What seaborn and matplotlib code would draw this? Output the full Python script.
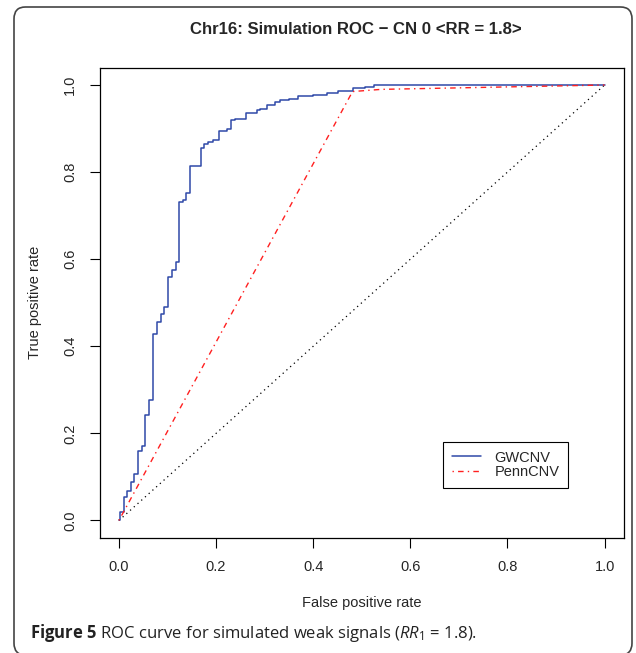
import numpy as np
import pandas as pd
import seaborn as sns
import matplotlib
matplotlib.use("Agg")
import matplotlib.pyplot as plt
from matplotlib.patches import FancyBboxPatch

# ---- data ----
gw_fpr = [0.0, 0.003, 0.0096, 0.0165, 0.025, 0.032, 0.040, 0.047, 0.054, 0.0625,
          0.071, 0.078, 0.087, 0.093, 0.102, 0.109, 0.1175, 0.124, 0.131, 0.138,
          0.147, 0.169, 0.176, 0.184, 0.193, 0.207, 0.223, 0.230, 0.238, 0.262,
          0.285, 0.291, 0.305, 0.322, 0.331, 0.351, 0.368, 0.399, 0.429, 0.451,
          0.482, 0.506, 0.526, 1.0]
gw_tpr = [0.0, 0.019, 0.054, 0.067, 0.088, 0.107, 0.159, 0.172, 0.243, 0.276,
          0.429, 0.456, 0.475, 0.490, 0.558, 0.575, 0.594, 0.732, 0.736, 0.751,
          0.814, 0.856, 0.864, 0.868, 0.874, 0.894, 0.900, 0.920, 0.923, 0.936,
          0.943, 0.946, 0.954, 0.962, 0.966, 0.969, 0.975, 0.976, 0.981, 0.986,
          0.993, 0.996, 1.0, 1.0]
pc_fpr = [0.0, 0.481, 0.54, 1.0]
pc_tpr = [0.0, 0.985, 0.99, 1.0]
diag = [0.0, 1.0]
ticks = [0.0, 0.2, 0.4, 0.6, 0.8, 1.0]
tick_labels = ["0.0", "0.2", "0.4", "0.6", "0.8", "1.0"]

gw = pd.DataFrame({"fpr": gw_fpr, "tpr": gw_tpr})
pc = pd.DataFrame({"fpr": pc_fpr, "tpr": pc_tpr})

sns.set_style("white")
plt.rcParams["font.family"] = ["Liberation Sans", "DejaVu Sans"]
plt.rcParams["mathtext.fontset"] = "custom"
plt.rcParams["mathtext.rm"] = "Open Sans"
plt.rcParams["mathtext.it"] = "Open Sans:italic"
plt.rcParams["mathtext.bf"] = "Open Sans:bold"

W, H = 636, 653
fig = plt.figure(figsize=(W / 100, H / 100), dpi=100)
fig.patch.set_facecolor("white")

# rounded frame
frame = FancyBboxPatch((14 / W, 1 - 655 / H), (632 - 14) / W, (655 - 7) / H,
                       boxstyle="round,pad=0,rounding_size=0.018",
                       transform=fig.transFigure, facecolor="none",
                       edgecolor="#444444", linewidth=1.2, clip_on=False)
fig.patches.append(frame)

L, R, T, B = 99.5, 624.0, 67.6, 537.9
ax = fig.add_axes([L / W, 1 - B / H, (R - L) / W, (B - T) / H])

ax.plot(diag, diag, color="black", linestyle=(0, (1, 3)), linewidth=0.9)
sns.lineplot(data=gw, x="fpr", y="tpr", ax=ax, color="#2f49a8", linewidth=1.1,
             drawstyle="steps-post", sort=False, estimator=None, label="GWCNV")
sns.lineplot(data=pc, x="fpr", y="tpr", ax=ax, color="#ff2020", linewidth=1.0,
             linestyle=(0, (1, 3, 4, 3)), sort=False, estimator=None, label="PennCNV")

ax.set_xlim(-0.04, 1.04)
ax.set_ylim(-0.04, 1.04)
ax.set_xticks(ticks)
ax.set_xticklabels(tick_labels, fontsize=10.5)
ax.set_yticks(ticks)
ax.set_yticklabels(tick_labels, fontsize=10.5, rotation=90, va="center")
ax.tick_params(direction="out", length=7, width=0.8, color="black", pad=9,
               bottom=True, left=True)
for s in ax.spines.values():
    s.set_color("black")
    s.set_linewidth(0.9)
ax.set_xlabel("")
ax.set_ylabel("")

fig.text(362 / W, 1 - 603 / H, "False positive rate", ha="center", va="center",
         fontsize=10.5)
fig.text(35 / W, 1 - 302 / H, "True positive rate", ha="center", va="center",
         fontsize=10.5, rotation=90)
fig.text(356 / W, 1 - 29 / H, "Chr16: Simulation ROC \u2212 CN 0 <RR = 1.8>",
         ha="center", va="center", fontsize=12.1, fontweight="bold")

leg = ax.legend(loc="lower right", bbox_to_anchor=(568 / W, 1 - 488 / H),
                bbox_transform=fig.transFigure, frameon=True, fancybox=False,
                edgecolor="black", framealpha=1, fontsize=10.5,
                handlelength=2.0, borderpad=0.6, labelspacing=0.05,
                handletextpad=0.9, borderaxespad=0)
leg.get_frame().set_linewidth(0.8)

fig.text(30 / W, 1 - 633 / H,
         r"$\mathbf{Figure\ 5}$ ROC curve for simulated weak signals ($\mathit{RR}_1$ = 1.8).",
         ha="left", va="center", fontsize=12.0, family="Open Sans", color="#222222")

fig.savefig("out.png", dpi=100)
